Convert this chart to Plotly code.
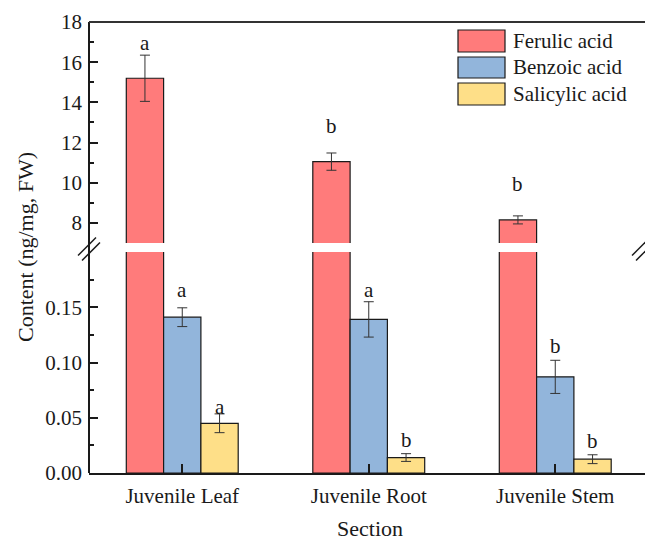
import plotly.graph_objects as go

# ---------------- data ----------------
categories = ["Juvenile Leaf", "Juvenile Root", "Juvenile Stem"]
series_names = ["Ferulic acid", "Benzoic acid", "Salicylic acid"]

ferulic = [15.2, 11.05, 8.15]
ferulic_err = [1.15, 0.43, 0.2]
benzoic = [0.141, 0.139, 0.087]
benzoic_err = [0.0085, 0.016, 0.015]
salicylic = [0.045, 0.014, 0.0125]
salicylic_err = [0.0085, 0.0035, 0.004]

ferulic_letters = ["a", "b", "b"]
benzoic_letters = ["a", "a", "b"]
salicylic_letters = ["a", "b", "b"]
ferulic_letter_y = [16.95, 12.8, 9.95]
benzoic_letter_y = [0.166, 0.1655, 0.1145]
salicylic_letter_y = [0.060, 0.030, 0.029]

y_top_ticks = [8, 10, 12, 14, 16, 18]
y_top_minor = [9, 11, 13, 15, 17]
y_bottom_ticks = [0.0, 0.05, 0.10, 0.15]
y_bottom_minor = [0.025, 0.075, 0.125, 0.175]

# ---------------- style ----------------
colors = ["#FF7B7B", "#92B5DB", "#FEDF88"]
FONT = "Liberation Serif"
INK = "#1a1a1a"

W, H = 645, 543
L, R, T, B = 89, 0, 22, 70
PW, PH = W - L - R, H - T - B


def px2paper(px, py):
    return (px - L) / PW, (H - B - py) / PH


values = [ferulic, benzoic, salicylic]
errors = [ferulic_err, benzoic_err, salicylic_err]
letters = [ferulic_letters, benzoic_letters, salicylic_letters]
letter_y = [ferulic_letter_y, benzoic_letter_y, salicylic_letter_y]
x_idx = list(range(len(categories)))

fig = go.Figure()
for name, vals, errs, col in zip(series_names, values, errors, colors):
    for xa, ya in (("x", "y"), ("x2", "y2")):
        fig.add_trace(go.Bar(
            x=x_idx, y=vals, name=name, xaxis=xa, yaxis=ya,
            offsetgroup=name, showlegend=False,
            marker=dict(color=col, line=dict(color=INK, width=1.2)),
            error_y=dict(type="data", array=errs, color="#333333",
                         thickness=1, width=5),
        ))

n = len(series_names)
group_frac = 0.6
bw = group_frac / n
annotations = []
for k in range(n):
    for i in x_idx:
        off = (k - (n - 1) / 2) * bw
        yref = "y2" if k == 0 else "y"
        annotations.append(dict(
            x=i + off, y=letter_y[k][i], xref="x", yref=yref,
            text=letters[k][i], showarrow=False,
            font=dict(family=FONT, size=21, color=INK),
            xanchor="center", yanchor="middle"))

# axis titles
tx, ty = px2paper(370, 528)
annotations.append(dict(x=tx, y=ty, xref="paper", yref="paper", text="Section",
                        showarrow=False, font=dict(family=FONT, size=22, color=INK),
                        xanchor="center", yanchor="middle"))
tx, ty = px2paper(25, 247)
annotations.append(dict(x=tx, y=ty, xref="paper", yref="paper",
                        text="Content (ng/mg, FW)", textangle=-90,
                        showarrow=False, font=dict(family=FONT, size=22, color=INK),
                        xanchor="center", yanchor="middle"))

shapes = []
# frame lines: left axis (continuous) and top border
shapes.append(dict(type="line", xref="paper", yref="paper", x0=0, x1=0, y0=0, y1=1,
                   line=dict(color=INK, width=2)))
shapes.append(dict(type="line", xref="paper", yref="paper", x0=0, x1=1, y0=1, y1=1,
                   line=dict(color="#333333", width=2)))
# break marks
for cx in (89, 643):
    for dx, dy in ((-2, -2.5), (2, 2.5)):
        x0, y0 = px2paper(cx - 9 + dx, 258 + dy)
        x1, y1 = px2paper(cx + 9 + dx, 240 + dy)
        shapes.append(dict(type="line", xref="paper", yref="paper",
                           x0=x0, y0=y0, x1=x1, y1=y1,
                           line=dict(color=INK, width=1.5)))

# manual legend
legend_rows = [(30, 52), (57, 78), (83, 105)]
for name, col, (r0, r1) in zip(series_names, colors, legend_rows):
    x0, y0 = px2paper(458, r1)
    x1, y1 = px2paper(505, r0)
    shapes.append(dict(type="rect", xref="paper", yref="paper",
                       x0=x0, x1=x1, y0=y0, y1=y1, fillcolor=col,
                       line=dict(color=INK, width=1.2)))
    lx, ly = px2paper(511, (r0 + r1) / 2)
    annotations.append(dict(x=lx, y=ly, xref="paper", yref="paper", text=name,
                            showarrow=False, xanchor="left", yanchor="middle",
                            font=dict(family=FONT, size=21, color=INK)))

bot_frac = (H - B - 252) / PH
top_frac = (H - B - 243) / PH

tickfont = dict(family=FONT, size=21, color=INK)
fig.update_layout(
    width=W, height=H,
    margin=dict(l=L, r=R, t=T, b=B, pad=0),
    paper_bgcolor="white", plot_bgcolor="white",
    barmode="group", bargap=1 - group_frac, bargroupgap=0,
    font=dict(family=FONT, color=INK),
    showlegend=False,
    xaxis=dict(domain=[0, 1], anchor="y", range=[-0.5, -0.5 + PW / 186.5],
               tickmode="array", tickvals=x_idx, ticktext=categories,
               ticks="inside", ticklen=9, tickwidth=1.5, tickcolor=INK,
               ticklabelstandoff=3, layer="above traces",
               showline=True, linecolor=INK, linewidth=2,
               showgrid=False, zeroline=False, tickfont=tickfont),
    xaxis2=dict(domain=[0, 1], anchor="y2", matches="x",
                showticklabels=False, ticks="", showline=False,
                showgrid=False, zeroline=False),
    yaxis=dict(domain=[0, bot_frac], anchor="x", range=[0, 0.2],
               tickmode="array", tickvals=y_bottom_ticks,
               ticktext=[f"{v:.2f}" for v in y_bottom_ticks],
               ticks="inside", ticklen=9, tickwidth=1.5, tickcolor=INK,
               ticklabelstandoff=6,
               minor=dict(tickmode="array", tickvals=y_bottom_minor, ticks="inside",
                          ticklen=5, tickwidth=1.5, tickcolor=INK),
               showline=False, showgrid=False, zeroline=False, tickfont=tickfont),
    yaxis2=dict(domain=[top_frac, 1], anchor="x2", range=[7, 18],
                tickmode="array", tickvals=y_top_ticks,
                ticktext=[str(v) for v in y_top_ticks],
                ticks="inside", ticklen=9, tickwidth=1.5, tickcolor=INK,
                ticklabelstandoff=6,
                minor=dict(tickmode="array", tickvals=y_top_minor, ticks="inside",
                           ticklen=5, tickwidth=1.5, tickcolor=INK),
                showline=False, showgrid=False, zeroline=False, tickfont=tickfont),
    annotations=annotations,
    shapes=shapes,
)

fig.write_html("out.html", config={"displayModeBar": False},
               post_script="document.body.style.margin='0';document.body.style.padding='0';")
